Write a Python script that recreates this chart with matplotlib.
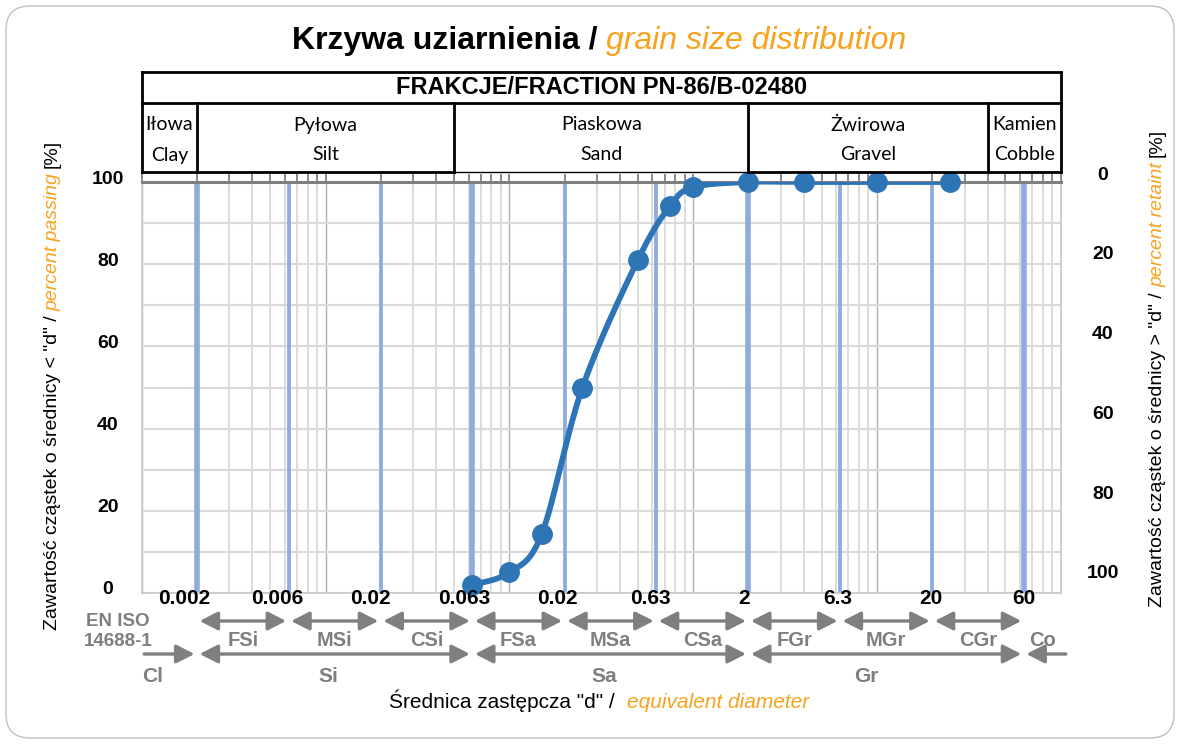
import numpy as np
import matplotlib
matplotlib.use('Agg')
import matplotlib.pyplot as plt
from matplotlib import transforms, patches
from matplotlib.ticker import LogLocator, NullFormatter

# ---------------- data ----------------
diameter_mm = [0.063, 0.1, 0.15, 0.25, 0.5, 0.75, 1.0, 2.0, 4.0, 10.0, 25.0]
passing_pct = [2.0, 5.0, 14.3, 50.0, 81.0, 94.2, 98.7, 100.0, 100.0, 100.0, 100.0]

iso_bounds = [0.002, 0.0063, 0.02, 0.063, 0.2, 0.63, 2.0, 6.3, 20.0, 63.0]
iso_major = [0.002, 0.063, 2.0, 63.0]
iso_bound_labels = ['0.002', '0.006', '0.02', '0.063', '0.02', '0.63', '2', '6.3', '20', '60']
iso_sub_names = ['FSi', 'MSi', 'CSi', 'FSa', 'MSa', 'CSa', 'FGr', 'MGr', 'CGr', 'Co']
iso_main_names = ['Cl', 'Si', 'Sa', 'Gr']
iso_main_label_x = [0.00115, 0.0103, 0.33, 8.8]

pn_bounds = [0.002, 0.05, 2.0, 40.0]
pn_names_pl = ['Iłowa', 'Pyłowa', 'Piaskowa', 'Żwirowa', 'Kamien']
pn_names_en = ['Clay', 'Silt', 'Sand', 'Gravel', 'Cobble']

left_ticks = [0, 20, 40, 60, 80, 100]
right_ticks = [0, 20, 40, 60, 80, 100]
x_limits = (0.001, 100.0)

# ---------------- style ----------------
BLUE = '#2E75B6'
LBLUE = '#8FAADC'
GRAY = '#7F7F7F'
ORANGE = '#F9A11B'
SANS = 'Liberation Sans'
CELL_FONT = 'Lato'

W, H = 1178, 744
fig = plt.figure(figsize=(W / 100, H / 100), dpi=100)
fig.patch.set_facecolor('white')


def fx(px):
    return px / W


def fy(py):
    return 1 - py / H


# outer rounded frame
frame = patches.FancyBboxPatch((6 / 100, 6 / 100), 1168 / 100, 732 / 100,
                               boxstyle='round,pad=0,rounding_size=0.24',
                               transform=fig.dpi_scale_trans, fill=False,
                               edgecolor='#BFBFBF', lw=1.0)
fig.patches.append(frame)

AX_L, AX_R, AX_T, AX_B = 141.7, 1060.7, 182, 593
ax = fig.add_axes([fx(AX_L), fy(AX_B), fx(AX_R - AX_L), (AX_B - AX_T) / H])
ax.set_xscale('log')
ax.set_xlim(x_limits)
ax.set_ylim(0, 100)
ax.xaxis.set_major_locator(LogLocator(base=10, numticks=20))
ax.xaxis.set_minor_locator(LogLocator(base=10, subs=np.arange(2, 10), numticks=20))
ax.xaxis.set_minor_formatter(NullFormatter())
ax.set_yticks(np.arange(0, 101, 10))
ax.grid(which='major', axis='x', color='#AFAFAF', lw=1.0)
ax.grid(which='minor', axis='x', color='#D9D9D9', lw=1.3)
ax.grid(which='major', axis='y', color='#D9D9D9', lw=1.5)
ax.set_axisbelow(True)
ax.tick_params(axis='y', left=False, right=False, labelleft=False, length=0)
ax.xaxis.set_ticks_position('top')
ax.tick_params(axis='x', which='both', direction='out', length=6, width=1.3,
               color='#808080', labeltop=False, labelbottom=False)
ax.spines['top'].set_color('#808080')
ax.spines['top'].set_linewidth(2.2)
for s in ['left', 'right', 'bottom']:
    ax.spines[s].set_color('#C8C8C8')
    ax.spines[s].set_linewidth(1.2)

for b in iso_bounds:
    ax.axvline(b, color=LBLUE, lw=4.0 if b in iso_major else 2.7, zorder=2)

# smoothed line (Catmull-Rom in display space, like a spreadsheet smoothed line)
pts = ax.transData.transform(np.column_stack([diameter_mm, passing_pct]))
curve = []
n = len(pts)
tt = np.linspace(0, 1, 40)[:, None]
for i in range(n - 1):
    p0 = pts[max(i - 1, 0)]
    p1 = pts[i]
    p2 = pts[i + 1]
    p3 = pts[min(i + 2, n - 1)]
    c1 = p1 + (p2 - p0) / 6.0
    c2 = p2 - (p3 - p1) / 6.0
    seg = ((1 - tt) ** 3) * p1 + 3 * ((1 - tt) ** 2) * tt * c1 + 3 * (1 - tt) * tt ** 2 * c2 + tt ** 3 * p2
    curve.append(seg if i == 0 else seg[1:])
curve = ax.transData.inverted().transform(np.vstack(curve))
ax.plot(curve[:, 0], curve[:, 1], color=BLUE, lw=4.2, zorder=4, solid_capstyle='round')
ax.plot(diameter_mm, passing_pct, 'o', ms=14, color=BLUE, zorder=5, clip_on=False)

# left / right value labels
ax_l = fig.add_axes([fx(AX_L), fy(587), fx(AX_R - AX_L), (587 - 178) / H])
ax_l.set_ylim(0, 100)
ax_l.set_yticks(left_ticks)
ax_l.set_yticklabels([str(v) for v in left_ticks])
ax_l.tick_params(axis='y', length=0, pad=24.3, labelsize=14)
for lab in ax_l.get_yticklabels():
    lab.set_ha('center')
    lab.set_fontweight('bold')
    lab.set_fontfamily(SANS)
ax_r = fig.add_axes([fx(AX_L), fy(572), fx(AX_R - AX_L), (572 - 173) / H])
ax_r.set_ylim(100, 0)
ax_r.yaxis.tick_right()
ax_r.set_yticks(right_ticks)
ax_r.set_yticklabels([str(v) for v in right_ticks])
ax_r.tick_params(axis='y', length=0, pad=30.5, labelsize=14)
for lab in ax_r.get_yticklabels():
    lab.set_ha('center')
    lab.set_fontweight('bold')
    lab.set_fontfamily(SANS)
for a in (ax_l, ax_r):
    a.patch.set_visible(False)
    for s in a.spines.values():
        s.set_visible(False)
    a.set_xticks([])

# header table
tab = fig.add_axes([fx(AX_L), fy(172), fx(AX_R - AX_L), 100 / H])
tab.set_xscale('log')
tab.set_xlim(x_limits)
tab.set_ylim(0, 1)
tab.axis('off')
row_y = 0.69
lk = dict(color='black', lw=2.0, clip_on=False, solid_capstyle='projecting')
tab.plot([x_limits[0], x_limits[1]], [1, 1], **lk)
tab.plot([x_limits[0], x_limits[1]], [row_y, row_y], **lk)
tab.plot([x_limits[0], x_limits[0]], [0, 1], **lk)
tab.plot([x_limits[1], x_limits[1]], [0, 1], **lk)
edges = [x_limits[0]] + pn_bounds + [x_limits[1]]
for i in range(len(edges) - 1):
    thin = pn_names_en[i] == 'Sand'
    tab.plot([edges[i], edges[i + 1]], [0, 0], color='black', lw=1.0 if thin else 2.0, clip_on=False)
for b in pn_bounds:
    tab.plot([b, b], [0, row_y], **lk)
tab.text(np.sqrt(x_limits[0] * x_limits[1]), (row_y + 1) / 2, 'FRAKCJE/FRACTION PN-86/B-02480',
         ha='center', va='center', fontsize=17, fontweight='bold', family=SANS)
for i in range(len(edges) - 1):
    cx = np.sqrt(edges[i] * edges[i + 1])
    tab.text(cx, 0.47, pn_names_pl[i], ha='center', va='center', fontsize=14, family=CELL_FONT)
    tab.text(cx, 0.17, pn_names_en[i], ha='center', va='center', fontsize=14, family=CELL_FONT)

# bottom annotations (ISO fractions)
trans = transforms.blended_transform_factory(ax.transData, fig.transFigure)
trans_ax = transforms.blended_transform_factory(ax.transAxes, fig.transFigure)
for xa, lab in zip(np.linspace(0.046, 0.960, len(iso_bound_labels)), iso_bound_labels):
    fig.text(xa, fy(598), lab, transform=trans_ax, ha='center', va='center',
             fontsize=15, fontweight='bold', family=SANS, zorder=6)

arrow_kw = dict(color=GRAY, lw=2.4, mutation_scale=20, shrinkA=1.8, shrinkB=1.8)
AS2 = '<|-|>,head_length=0.55,head_width=0.28'
AS1 = '-|>,head_length=0.55,head_width=0.28'
for b0, b1 in zip(iso_bounds[:-1], iso_bounds[1:]):
    ax.annotate('', xy=(b1, fy(621)), xytext=(b0, fy(621)), xycoords=trans, textcoords=trans,
                arrowprops=dict(arrowstyle=AS2, **arrow_kw), annotation_clip=False)
sub_x = [np.sqrt(a * b) for a, b in zip(iso_bounds[:-1], iso_bounds[1:])] + [np.sqrt(iso_bounds[-1] * x_limits[1])]
for xv, name in zip(sub_x, iso_sub_names):
    fig.text(xv, fy(641), name, transform=trans, ha='center', va='center',
             fontsize=14.5, fontweight='bold', color=GRAY, family=SANS)

main_b = iso_major
ax.annotate('', xy=(main_b[0], fy(654)), xytext=(x_limits[0], fy(654)), xycoords=trans, textcoords=trans,
            arrowprops=dict(arrowstyle=AS1, **arrow_kw), annotation_clip=False)
for b0, b1 in zip(main_b[:-1], main_b[1:]):
    ax.annotate('', xy=(b1, fy(654)), xytext=(b0, fy(654)), xycoords=trans, textcoords=trans,
                arrowprops=dict(arrowstyle=AS2, **arrow_kw), annotation_clip=False)
ax.annotate('', xy=(main_b[-1], fy(654)), xytext=(110, fy(654)), xycoords=trans, textcoords=trans,
            arrowprops=dict(arrowstyle=AS1, **arrow_kw), annotation_clip=False)
for xv, name in zip(iso_main_label_x, iso_main_names):
    fig.text(xv, fy(676), name, transform=trans, ha='center', va='center',
             fontsize=15, fontweight='bold', color=GRAY, family=SANS)

fig.text(fx(118), fy(621), 'EN ISO', ha='center', va='center', fontsize=13.5,
         fontweight='bold', color=GRAY, family=SANS)
fig.text(fx(118), fy(641), '14688-1', ha='center', va='center', fontsize=13.5,
         fontweight='bold', color=GRAY, family=SANS)

# rich text helper (mixed styles on one line)
renderer = fig.canvas.get_renderer()
ident = transforms.IdentityTransform()


def rich(cx, cy, parts, fontsize, rotation=0, gap=6):
    objs = []
    for s, kw in parts:
        t = fig.text(0, 0, s, transform=ident, rotation=rotation, rotation_mode='anchor',
                     ha='left', va='baseline', fontsize=fontsize, family=SANS, **kw)
        objs.append(t)
    ext = []
    for t in objs:
        bb = t.get_window_extent(renderer)
        ext.append(bb.width if rotation == 0 else bb.height)
    total = sum(ext) + gap * (len(objs) - 1)
    fs_px = fontsize * 100 / 72
    if rotation == 0:
        x = cx - total / 2
        base = (H - cy) - 0.36 * fs_px
        for t, e in zip(objs, ext):
            t.set_position((x, base))
            x += e + gap
    else:
        y = (H - cy) - total / 2
        base = cx + 0.36 * fs_px
        for t, e in zip(objs, ext):
            t.set_position((base, y))
            y += e + gap


rich(599, 38, [('Krzywa uziarnienia /', dict(fontweight='bold', color='black')),
               ('grain size distribution', dict(style='italic', color=ORANGE))], 23, gap=8)
rich(599, 700, [('Średnica zastępcza "d" /', dict(color='black')),
                ('equivalent diameter', dict(style='italic', color=ORANGE))], 15, gap=12)
rich(50, 385, [('Zawartość cząstek o średnicy < "d" /', dict(color='black')),
               ('percent passing', dict(style='italic', color=ORANGE)),
               ('[%]', dict(color='black'))], 14, rotation=90, gap=5)
rich(1155, 368, [('Zawartość cząstek o średnicy > "d" /', dict(color='black')),
                 ('percent retaint', dict(style='italic', color=ORANGE)),
                 ('[%]', dict(color='black'))], 14, rotation=90, gap=5)

fig.savefig('out.png', dpi=100)
